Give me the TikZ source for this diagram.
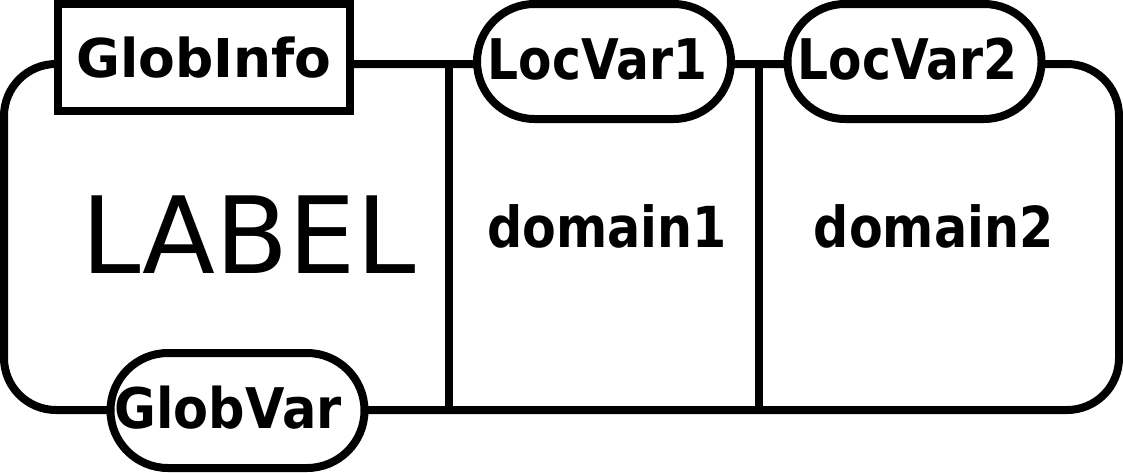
\documentclass[tikz,border=0pt]{standalone}
\usepackage{fontspec}
\setmainfont{DejaVu Sans}
\newfontfamily\condfont[FakeStretch=0.87]{DejaVu Sans}
\newfontfamily\gvfont[FakeStretch=0.91]{DejaVu Sans}
\usetikzlibrary{shapes.misc}
\tikzset{
  line/.style={line width=8pt, draw=black},
  pill/.style={line, fill=white, rounded rectangle, minimum width=254pt, minimum height=115pt, inner sep=0pt},
  infobox/.style={line, fill=white, rectangle, minimum width=292pt, minimum height=107pt, inner sep=0pt,
    font=\fontsize{53.5}{60}\selectfont\bfseries},
  pilltext/.style={font=\condfont\fontsize{56}{60}\selectfont\bfseries, inner sep=0pt},
  gvtext/.style={font=\gvfont\fontsize{56}{60}\selectfont\bfseries, inner sep=0pt},
  domtext/.style={font=\condfont\fontsize{56.5}{60}\selectfont\bfseries, inner sep=0pt, anchor=base},
  bigtext/.style={font=\fontsize{106.6}{110}\selectfont, inner sep=0pt, anchor=base}
}
\begin{document}
\begin{tikzpicture}[x=1pt,y=-1pt]
\useasboundingbox (0,0) rectangle (1123,472);
% outer frame
\draw[line, rounded corners=52pt] (4,64) rectangle (1119,410);
% dividers
\coordinate (d1t) at (449,64);
\coordinate (d1b) at (449,410);
\coordinate (d2t) at (759,64);
\coordinate (d2b) at (759,410);
\draw[line] (d1t) -- (d1b);
\draw[line] (d2t) -- (d2b);
% header nodes
\node[infobox] (globinfo) at (204,57.5) {GlobInfo};
\node[pill] (locvar1) at (604,61.5) {};
\node[pilltext] (locvar1t) at (597.5,59.5) {LocVar1};
\node[pill] (locvar2) at (914.5,61.5) {};
\node[pilltext] (locvar2t) at (907.5,59.5) {LocVar2};
\node[pill] (globvar) at (237.5,410.5) {};
\node[gvtext] (globvart) at (228,407.5) {GlobVar};
% body texts
\node[bigtext] (label) at (248.5,273) {LABEL};
\node[domtext] (dom1) at (607,247) {domain1};
\node[domtext] (dom2) at (933.5,247) {domain2};
\end{tikzpicture}
\end{document}
